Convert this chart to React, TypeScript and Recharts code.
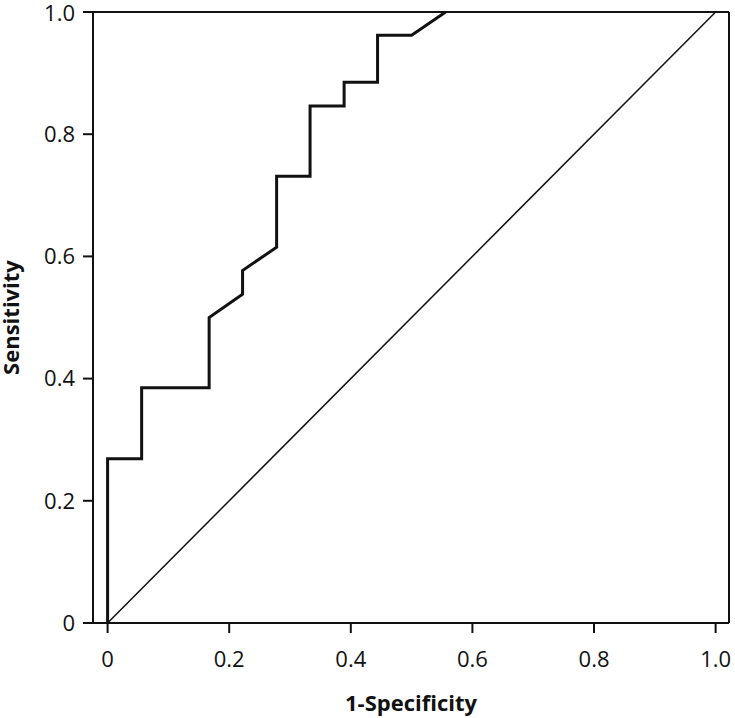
import { LineChart, Line, XAxis, YAxis, ReferenceLine } from "recharts";

// ROC curve (1-specificity, sensitivity)
const fpr = [0, 0, 0.056, 0.056, 0.167, 0.167, 0.222, 0.222, 0.278, 0.278, 0.333, 0.333, 0.389, 0.389, 0.444, 0.444, 0.5, 0.556];
const tpr = [0, 0.269, 0.269, 0.385, 0.385, 0.5, 0.538, 0.577, 0.615, 0.731, 0.731, 0.846, 0.846, 0.885, 0.885, 0.962, 0.962, 1.0];

// reference (chance) line
const diagX = [0, 1];
const diagY = [0, 1];

const xTicks = [0, 0.2, 0.4, 0.6, 0.8, 1.0];
const yTicks = [0, 0.2, 0.4, 0.6, 0.8, 1.0];
const xDomain: [number, number] = [-0.024, 1.022];

const rocData = fpr.map((x, i) => ({ x, y: tpr[i] }));
const diagData = diagX.map((x, i) => ({ x, y: diagY[i] }));

const FONT = "'Open Sans', sans-serif";
const INK = "#111";

const fmt = (v: number) => (v === 0 ? "0" : v.toFixed(1));

export default function App() {
  return (
    <div style={{ position: "absolute", left: 0, top: 0, background: "#fff" }}>
      <LineChart
        width={735}
        height={718}
        margin={{ top: 12, right: 6, bottom: 0, left: 0 }}
        style={{ fontFamily: FONT }}
      >
        <XAxis
          dataKey="x"
          type="number"
          domain={xDomain}
          allowDataOverflow
          ticks={xTicks}
          tickFormatter={fmt}
          height={95}
          tickSize={10}
          tickMargin={18}
          axisLine={{ stroke: INK, strokeWidth: 2 }}
          tickLine={{ stroke: INK, strokeWidth: 2 }}
          tick={{ fill: INK, fontSize: 22, fontFamily: FONT }}
          label={{
            content: ({ viewBox }: any) => (
              <text
                x={viewBox.x + viewBox.width / 2}
                y={711}
                textAnchor="middle"
                fontSize={22}
                fontWeight={700}
                fontFamily={FONT}
                fill={INK}
              >
                1-Specificity
              </text>
            ),
          }}
        />
        <YAxis
          dataKey="y"
          type="number"
          domain={[0, 1]}
          ticks={yTicks}
          tickFormatter={fmt}
          width={93}
          tickSize={10}
          tickMargin={8}
          axisLine={{ stroke: INK, strokeWidth: 2 }}
          tickLine={{ stroke: INK, strokeWidth: 2 }}
          tick={{ fill: INK, fontSize: 22, fontFamily: FONT }}
          label={{
            content: ({ viewBox }: any) => {
              const cx = 19;
              const cy = viewBox.y + viewBox.height / 2;
              return (
                <text
                  x={cx}
                  y={cy}
                  transform={`rotate(-90 ${cx} ${cy})`}
                  textAnchor="middle"
                  fontSize={22}
                  fontWeight={700}
                  fontFamily={FONT}
                  fill={INK}
                >
                  Sensitivity
                </text>
              );
            },
          }}
        />
        <ReferenceLine y={1} stroke={INK} strokeWidth={2} />
        <ReferenceLine x={xDomain[1]} stroke={INK} strokeWidth={2} />
        <Line
          data={diagData}
          dataKey="y"
          type="linear"
          stroke={INK}
          strokeWidth={1.5}
          dot={false}
          activeDot={false}
          isAnimationActive={false}
        />
        <Line
          data={rocData}
          dataKey="y"
          type="linear"
          stroke={INK}
          strokeWidth={3}
          dot={false}
          activeDot={false}
          isAnimationActive={false}
        />
      </LineChart>
    </div>
  );
}
